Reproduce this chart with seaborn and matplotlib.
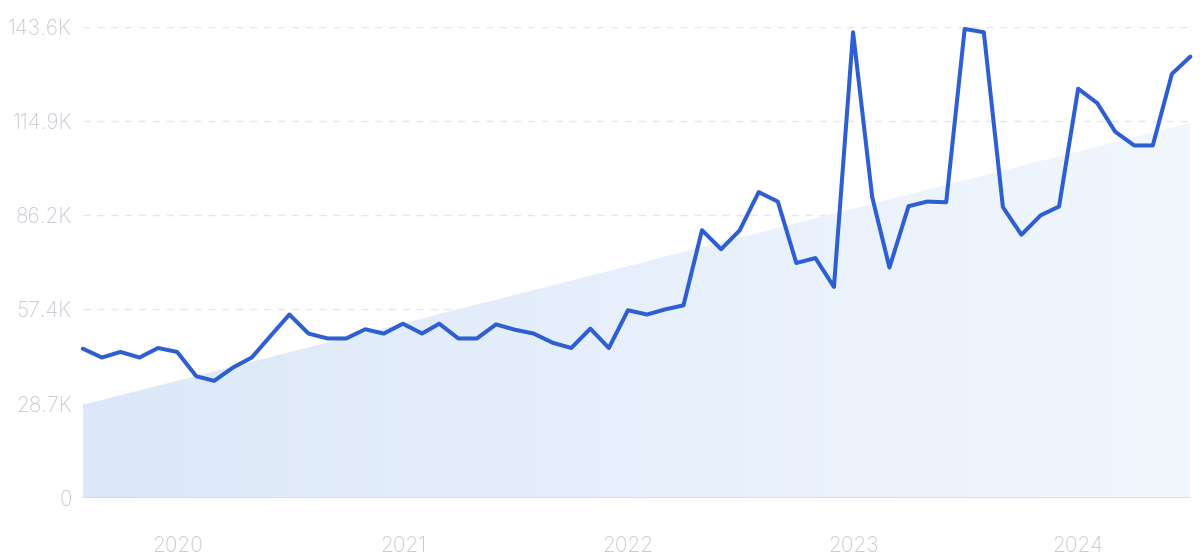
import numpy as np
import pandas as pd
import matplotlib.pyplot as plt
import matplotlib.dates as mdates
from matplotlib.colors import LinearSegmentedColormap
import seaborn as sns

# Monthly values (thousands), Aug 2019 - Jul 2024
first_month = "2019-08-01"
values_k = [
    45.5, 42.8, 44.5, 42.8, 45.7, 44.5, 37.1, 35.7, 39.8, 42.8,
    49.5, 55.9, 50.1, 48.6, 48.6, 51.4, 50.1, 53.1, 50.1, 53.1,
    48.6, 48.6, 52.9, 51.3, 50.1, 47.3, 45.7, 51.6, 45.7, 57.2,
    55.9, 57.4, 58.7, 81.6, 75.8, 81.5, 93.2, 90.3, 71.6, 73.1,
    64.3, 141.9, 91.7, 70.2, 88.9, 90.3, 90.1, 142.9, 141.9, 88.6,
    80.2, 86.1, 88.8, 124.7, 120.3, 111.6, 107.4, 107.4, 129.2, 134.5,
]
trend_start_k = 28.4
trend_end_k = 114.3
y_ticks_k = [0, 28.72, 57.44, 86.16, 114.88, 143.6]
y_tick_labels = ["0", "28.7K", "57.4K", "86.2K", "114.9K", "143.6K"]
year_ticks = ["2020", "2021", "2022", "2023", "2024"]

dates = pd.date_range(first_month, periods=len(values_k), freq="MS")
df = pd.DataFrame({"date": dates, "value": np.array(values_k) * 1000})

sns.set_style("white")
plt.rcParams["font.family"] = ["Inter", "DejaVu Sans"]

fig = plt.figure(figsize=(12, 5.6), dpi=100)
ax = fig.add_axes([0.069, 0.1107, 0.923, 0.8417])

x_num = mdates.date2num(df["date"])
x0, x1 = x_num[0], x_num[-1]
ymax = y_ticks_k[-1] * 1000

# trend area with a soft horizontal gradient
trend = np.linspace(trend_start_k, trend_end_k, len(values_k)) * 1000
poly = ax.fill_between(df["date"], 0, trend, color="none", linewidth=0)
cmap = LinearSegmentedColormap.from_list("fade", ["#dce8f9", "#f2f7fe"])
grad = np.linspace(0, 1, 256).reshape(1, -1)
img = ax.imshow(grad, cmap=cmap, aspect="auto", extent=[x0, x1, 0, ymax],
                origin="lower", zorder=1)
img.set_clip_path(poly.get_paths()[0], transform=ax.transData)

# grid lines
for v in y_ticks_k[1:]:
    ax.axhline(v * 1000, color="#e1e6ef", linestyle=(0, (5, 5)), linewidth=1, zorder=0.5)
ax.axhline(0, color="#cbdcf2", linewidth=1.2, zorder=2)

sns.lineplot(data=df, x="date", y="value", ax=ax, color="#2d5fd3",
             linewidth=2.9, zorder=3, clip_on=False)

ax.set_xlim(x0, x1)
ax.set_ylim(0, ymax)
ax.set_yticks([v * 1000 for v in y_ticks_k])
ax.set_yticklabels(y_tick_labels)
ax.set_xticks([mdates.date2num(pd.Timestamp(f"{y}-01-01")) for y in year_ticks])
ax.set_xticklabels(year_ticks)
ax.tick_params(axis="y", length=0, pad=8, labelsize=15, labelcolor="#c6c8d0")
ax.tick_params(axis="x", length=0, pad=27, labelsize=15, labelcolor="#c6c8d0")
for lab in ax.get_xticklabels() + ax.get_yticklabels():
    lab.set_fontweight("light")
ax.set_xlabel("")
ax.set_ylabel("")
for s in ax.spines.values():
    s.set_visible(False)

fig.savefig("out.png", dpi=100, facecolor="white")
